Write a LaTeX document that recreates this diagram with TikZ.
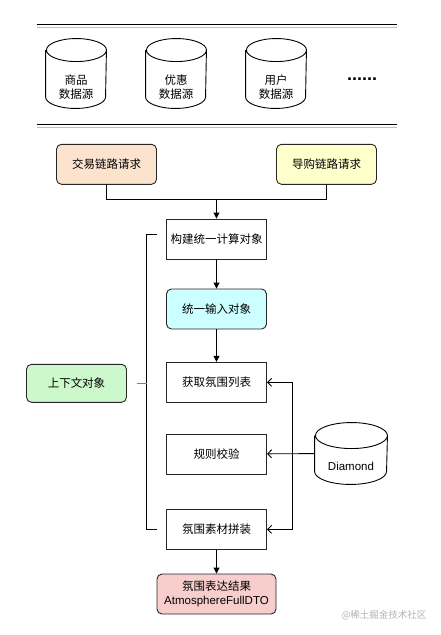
\documentclass[tikz,border=0pt]{standalone}
\usepackage{fontspec}
\setmainfont{Liberation Sans}
\newfontfamily\cjk{Noto Sans CJK SC}
\usetikzlibrary{arrows.meta}
\definecolor{peach}{HTML}{FCE3CE}
\definecolor{lemon}{HTML}{FFFFCC}
\definecolor{aqua}{HTML}{CCFFFF}
\definecolor{mint}{HTML}{CCF8CC}
\definecolor{rose}{HTML}{F8CECC}
\begin{document}
\begin{tikzpicture}[x=1pt, y=-1pt, line width=0.9pt, font=\fontsize{11.5}{14}\selectfont]
			\tikzstyle{step box} = [rectangle, minimum width=100pt, minimum height=40pt, inner sep=0pt, draw=black!85, align=center]
			\tikzstyle{soft box} = [step box, rounded corners=5pt]
			\tikzstyle{store}    = [rectangle, inner sep=0pt, minimum width=60pt, minimum height=46pt]
			\tikzstyle{flow}     = [-{Triangle[length=6pt, width=6pt]}]
			\tikzstyle{feed}     = [-{Straight Barb[length=4pt, width=8pt]}]

			\useasboundingbox (0,0) rectangle (440,635);
			
%			\draw[step=10pt, gray!30] (0,0) grid (440,635);

			% data source layer
			\draw (36.7,24.5) -- (396.7,24.5);
			\draw[gray!50] (36.7,27.5) -- (396.7,27.5);
			\draw (36.7,124.5) -- (396.7,124.5);
			\draw[gray!50] (36.7,127.5) -- (396.7,127.5);
			
			\foreach \name/\text/\x in {goods/商品/76, promo/优惠/176, user/用户/276}
				\node[store, label={[align=center, yshift=-14pt]center:\cjk\text\\\cjk 数据源}] (\name) at (\x, 73.5) {};
			\node[font=\fontsize{18}{20}\bfseries] (more) at (362, 79) {......};

			% requests
			\node[soft box, fill=peach] (trade) at (106.5, 164.3) {\cjk 交易链路请求};
			\node[soft box, fill=lemon] (guide) at (326.5, 164.3) {\cjk 导购链路请求};
			\coordinate (join) at (216.5, 199.3);
			\draw (trade) |- (join) -| (guide);
			
			% main flow
			\node[step box] (build) at (216.5, 239) {\cjk 构建统一计算对象};
			\node[soft box, fill=aqua] (input) at (216.5, 309) {\cjk 统一输入对象};
			\node[step box] (fetch) at (216.5, 382.3) {\cjk 获取氛围列表};
			\node[step box] (check) at (216.5, 454) {\cjk 规则校验};
			\node[step box] (build2) at (216.5, 529.3) {\cjk 氛围素材拼装};
			\node[soft box, fill=rose, minimum width=119pt] (result) at (216.5, 594) {\cjk 氛围表达结果\\AtmosphereFullDTO};
			
			\foreach \from/\to in {join/build, build/input, input/fetch, build2/result}
				\draw[flow] (\from) -- (\to);

			% context
			\node[soft box, fill=mint, minimum height=38pt] (context) at (76.5, 383.3) {\cjk 上下文对象};
			\coordinate (brtop) at (146.7, 234.7);
			\coordinate (brbot) at (146.7, 529.3);
			\draw ([xshift=10pt]brtop) -- (brtop) -- (brbot) -- ([xshift=10pt]brbot);
			\draw[gray] ([xshift=10pt]context.east) -- (context.east -| brtop);

			% diamond
			\node[store, minimum width=72pt, minimum height=35pt, label={[yshift=-13pt]center:Diamond}] (diamond) at (351, 453.5) {};
			\coordinate (bus) at (292, 454);
			\draw[feed] (diamond) -- (check);
			\foreach \to in {fetch, build2}
				\draw[feed] (bus) |- (\to);

			% cylinder outlines
			\foreach \name/\rx/\ry in {goods/30/11.5, promo/30/11.5, user/30/11.5, diamond/36/13}
				\draw (\name.north west) -- (\name.south west)
					arc[start angle=180, end angle=360, x radius=\rx pt, y radius=\ry pt]
					-- (\name.north east)
					arc[start angle=0, end angle=360, x radius=\rx pt, y radius=\ry pt];
			
			\node[gray!60, font=\fontsize{9.5}{11}\selectfont] (mark) at (384, 615) {\cjk @稀土掘金技术社区};
		\end{tikzpicture}
\end{document}
